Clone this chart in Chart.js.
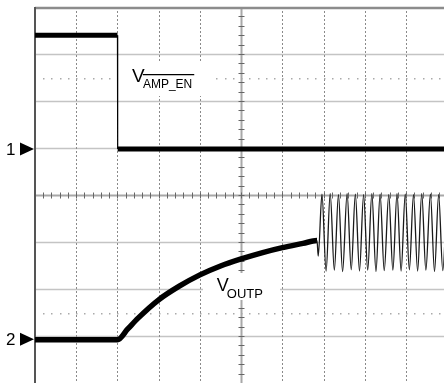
<!DOCTYPE html>
<html lang="en">
<head>
    <meta charset="UTF-8">
    <title>AMP_EN / OUTP scope capture</title>
    <script src="https://cdn.jsdelivr.net/npm/chart.js"></script>
    <style>
        body { margin: 0; background: #fff; }
        canvas { display: block; }
    </style>
</head>
<body>
    <canvas id="scope" width="444" height="383"></canvas>

    <script>
        // graticule, in divisions
        const xTicks = [0, 1, 2, 3, 4, 5, 6, 7, 8, 9, 10];
        const yTicks = [0, 1, 2, 3, 4, 5, 6, 7, 8];
        const refLines = [1.5, 6.5];

        // channel 1: AMP_EN (divisions)
        const enTime = [0, 2.0, 2.005, 9.99];
        const enVolts = [7.40, 7.40, 4.98, 4.98];

        // channel 2: OUTP (divisions)
        const outpTime = [0, 2.0, 2.25, 2.5, 3.0, 3.5, 4.0, 4.5, 5.0, 5.5, 6.0, 6.5, 6.84, 6.87,
            6.96, 7.06, 7.16, 7.26, 7.36, 7.46, 7.57, 7.67, 7.77, 7.87, 7.97, 8.07, 8.17, 8.27,
            8.37, 8.47, 8.58, 8.68, 8.78, 8.88, 8.98, 9.08, 9.18, 9.28, 9.38, 9.48, 9.59, 9.69,
            9.79, 9.89, 9.99];
        const outpVolts = [0.92, 0.92, 1.15, 1.38, 1.77, 2.06, 2.30, 2.49, 2.64, 2.77, 2.88, 2.97, 3.03, 2.70,
            4.02, 2.38, 4.03, 2.40, 4.01, 2.37, 4.03, 2.41, 4.02, 2.38, 4.01, 2.40, 4.03, 2.37,
            4.02, 2.39, 4.01, 2.40, 4.03, 2.38, 4.02, 2.41, 4.01, 2.38, 4.03, 2.40, 4.02, 2.37,
            4.01, 2.39, 4.02];
        const oscStart = 6.84;

        // channel ground markers
        const markerLabels = ['1', '2'];
        const markerLevels = [4.98, 0.93];

        const FONT = 'Arial, "Liberation Sans", sans-serif';

        // 画格线
        const graticule = {
            id: 'graticule',
            beforeDatasetsDraw(chart) {
                const { ctx, chartArea: a, scales: { x, y } } = chart;
                ctx.save();

                // horizontal lines
                ctx.strokeStyle = '#c4c4c4';
                ctx.lineWidth = 1.5;
                yTicks.forEach(v => {
                    if (v === 0 || v === 8 || v === 4) return;
                    const py = Math.round(y.getPixelForValue(v)) + 0.5;
                    ctx.beginPath(); ctx.moveTo(a.left, py); ctx.lineTo(a.right, py); ctx.stroke();
                });

                // vertical dotted lines
                ctx.strokeStyle = '#8a8a8a';
                ctx.lineWidth = 1;
                ctx.setLineDash([2, 2]);
                xTicks.forEach(v => {
                    if (v === 0 || v === 5) return;
                    const px = Math.round(x.getPixelForValue(v)) + 0.5;
                    ctx.beginPath(); ctx.moveTo(px, a.top); ctx.lineTo(px, a.bottom); ctx.stroke();
                });
                ctx.setLineDash([]);

                // dotted reference lines
                ctx.fillStyle = '#aaa';
                refLines.forEach(v => {
                    const py = Math.round(y.getPixelForValue(v));
                    for (let t = 0.2; t < 10; t += 0.2) {
                        ctx.fillRect(Math.round(x.getPixelForValue(t)), py, 1.5, 1.5);
                    }
                });

                // center axes with minor ticks
                const cx = Math.round(x.getPixelForValue(5)) + 0.5;
                const cy = Math.round(y.getPixelForValue(4)) + 0.5;
                ctx.strokeStyle = '#a8a8a8';
                ctx.lineWidth = 2;
                ctx.beginPath(); ctx.moveTo(a.left, cy); ctx.lineTo(a.right, cy); ctx.stroke();
                ctx.beginPath(); ctx.moveTo(cx, a.top); ctx.lineTo(cx, a.bottom); ctx.stroke();
                ctx.strokeStyle = '#666';
                ctx.lineWidth = 1;
                for (let t = 0.2; t < 10; t += 0.2) {
                    const px = Math.round(x.getPixelForValue(t)) + 0.5;
                    ctx.beginPath(); ctx.moveTo(px, cy - 3); ctx.lineTo(px, cy + 3); ctx.stroke();
                }
                for (let v = 0.2; v < 8; v += 0.2) {
                    const py = Math.round(y.getPixelForValue(v)) + 0.5;
                    ctx.beginPath(); ctx.moveTo(cx - 3, py); ctx.lineTo(cx + 3, py); ctx.stroke();
                }

                // borders
                ctx.strokeStyle = '#8c8c8c';
                ctx.lineWidth = 2.5;
                ctx.beginPath(); ctx.moveTo(a.left, a.top + 1); ctx.lineTo(a.right, a.top + 1); ctx.stroke();
                ctx.strokeStyle = '#555';
                ctx.lineWidth = 2;
                ctx.beginPath(); ctx.moveTo(a.left, a.top); ctx.lineTo(a.left, a.bottom); ctx.stroke();

                // label backgrounds
                ctx.fillStyle = '#fff';
                ctx.fillRect(112, 62, 103, 34);
                ctx.fillRect(203, 273, 77, 27);

                ctx.restore();
            },
            afterDraw(chart) {
                const { ctx, chartArea: a, scales: { x, y } } = chart;
                ctx.save();
                ctx.fillStyle = '#000';
                ctx.strokeStyle = '#000';

                // channel markers
                markerLabels.forEach((lab, i) => {
                    const py = y.getPixelForValue(markerLevels[i]);
                    ctx.font = '17px ' + FONT;
                    ctx.textBaseline = 'middle';
                    ctx.textAlign = 'left';
                    ctx.fillText(lab, 6, py + 1);
                    ctx.beginPath();
                    ctx.moveTo(a.left - 15, py - 6.5);
                    ctx.lineTo(a.left - 15, py + 6.5);
                    ctx.lineTo(a.left - 1, py);
                    ctx.closePath();
                    ctx.fill();
                });

                // signal labels
                ctx.textBaseline = 'alphabetic';
                let px = x.getPixelForValue(2.35), py = y.getPixelForValue(6.40);
                ctx.font = '19px ' + FONT;
                ctx.fillText('V', px, py);
                ctx.font = '12px ' + FONT;
                const sub = 'AMP_EN';
                ctx.fillText(sub, px + 11, py + 6);
                const w = ctx.measureText(sub).width;
                ctx.lineWidth = 1.2;
                ctx.beginPath(); ctx.moveTo(px + 11, py - 7.5); ctx.lineTo(px + 13 + w, py - 7.5); ctx.stroke();

                px = x.getPixelForValue(4.41); py = y.getPixelForValue(1.96);
                ctx.font = '18px ' + FONT;
                ctx.fillText('V', px, py);
                ctx.font = '13px ' + FONT;
                ctx.fillText('OUTP', px + 10, py + 7);

                ctx.restore();
            }
        };

        const ctx = document.getElementById('scope').getContext('2d');
        new Chart(ctx, {
            type: 'line',
            data: {
                datasets: [{
                    label: 'AMP_EN',
                    data: enTime.map((t, i) => ({ x: t, y: enVolts[i] })),
                    borderColor: '#000',
                    pointRadius: 0,
                    borderJoinStyle: 'miter',
                    segment: {
                        borderWidth: c => Math.abs(c.p1.parsed.y - c.p0.parsed.y) > 1 ? 1.2 : 5
                    }
                }, {
                    label: 'OUTP',
                    data: outpTime.map((t, i) => ({ x: t, y: outpVolts[i] })),
                    borderColor: '#000',
                    pointRadius: 0,
                    cubicInterpolationMode: 'monotone',
                    segment: {
                        borderWidth: c => c.p0.parsed.x >= oscStart ? 1.3 : 5.5,
                        borderColor: c => c.p0.parsed.x >= oscStart ? '#1a1a1a' : '#000'
                    }
                }]
            },
            options: {
                responsive: false,
                animation: false,
                devicePixelRatio: 1,
                layout: { padding: { left: 35, top: 7, right: 0, bottom: 0 } },
                plugins: { legend: { display: false }, tooltip: { enabled: false } },
                scales: {
                    x: { type: 'linear', min: 0, max: 9.92, display: false },
                    y: { type: 'linear', min: 0, max: 8, display: false }
                }
            },
            plugins: [graticule]
        });
    </script>
</body>
</html>
